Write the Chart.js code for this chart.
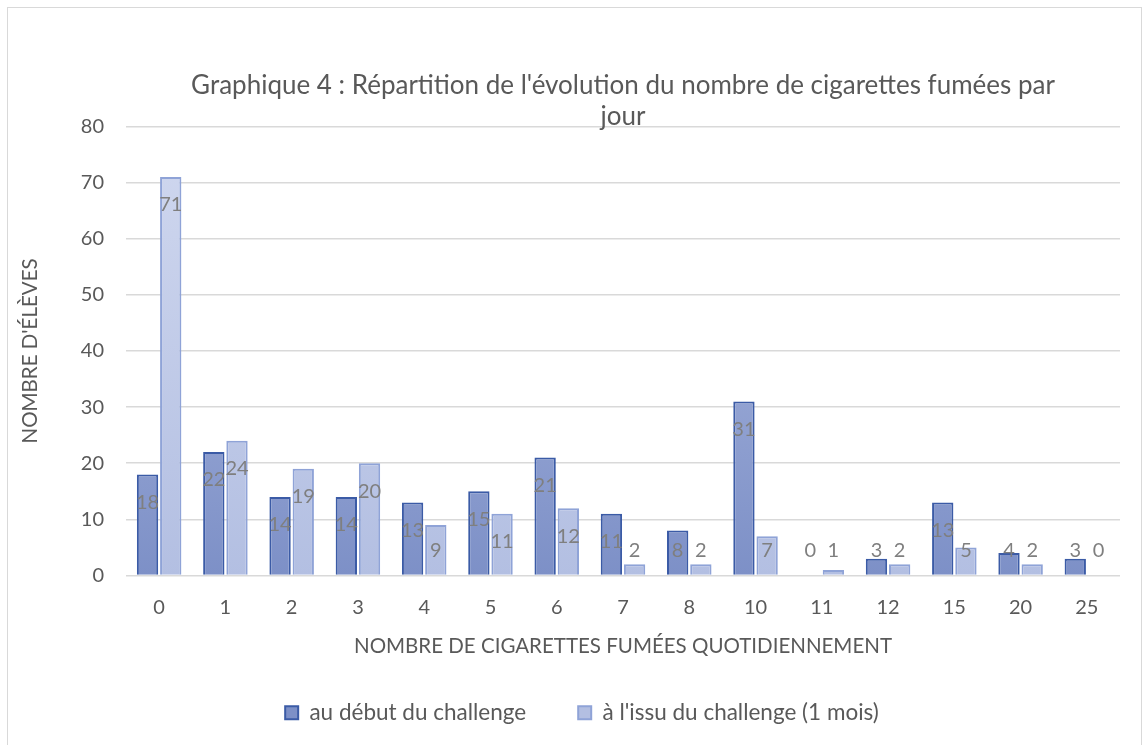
<!DOCTYPE html>
<html>
<head>
<meta charset="utf-8">
<script src="https://cdn.jsdelivr.net/npm/chart.js@4/dist/chart.umd.min.js"></script>
<style>
  html, body { margin: 0; padding: 0; background: #fff; }
  #wrap { position: relative; width: 1148px; height: 745px; overflow: hidden; }
  #frame { position: absolute; left: 7px; top: 7px; width: 1133px; height: 760px; border: 1px solid #d9d9d9; }
  canvas { position: absolute; left: 0; top: 0; }
</style>
</head>
<body>
<div id="wrap">
  <div id="frame"></div>
  <canvas id="chart" width="1148" height="745"></canvas>
</div>
<script>
// Données
const categories = ['0', '1', '2', '3', '4', '5', '6', '7', '8', '10', '11', '12', '15', '20', '25'];
const debutChallenge = [18, 22, 14, 14, 13, 15, 21, 11, 8, 31, 0, 3, 13, 4, 3];
const issueChallenge = [71, 24, 19, 20, 9, 11, 12, 2, 2, 7, 1, 2, 5, 2, 0];
const yTicks = [0, 10, 20, 30, 40, 50, 60, 70, 80];

const FONT = 'Lato, "Open Sans", sans-serif';
const GREY = '#595959';

// Dégradé vertical sur la zone du graphique
function gradient(top, bottom) {
  return ctx => {
    const area = ctx.chart.chartArea;
    if (!area) return bottom;
    const g = ctx.chart.ctx.createLinearGradient(0, area.top, 0, area.bottom);
    g.addColorStop(0, top);
    g.addColorStop(1, bottom);
    return g;
  };
}

// Étiquettes de données (style Excel "bord intérieur")
const valueLabels = {
  id: 'valueLabels',
  afterDatasetsDraw(chart) {
    const c = chart.ctx;
    const base = chart.scales.y.getPixelForValue(0);
    c.save();
    c.font = '20px ' + FONT;
    c.fillStyle = '#7f7f7f';
    c.textAlign = 'center';
    c.textBaseline = 'middle';
    chart.data.datasets.forEach((ds, i) => {
      chart.getDatasetMeta(i).data.forEach((bar, j) => {
        const y = Math.min(bar.y + 28, base - 25);
        c.fillText(String(ds.data[j]), bar.x, y);
      });
    });
    c.restore();
  }
};

new Chart(document.getElementById('chart'), {
  type: 'bar',
  data: {
    labels: categories,
    datasets: [
      {
        label: 'au début du challenge',
        data: debutChallenge,
        backgroundColor: gradient('#b3bfe3', '#7d90c7'),
        borderColor: '#3b5ba6',
        borderWidth: 2,
        categoryPercentage: 0.7,
        barPercentage: 0.92
      },
      {
        label: "à l'issu du challenge (1 mois)",
        data: issueChallenge,
        backgroundColor: gradient('#d0d8ef', '#b3bfe2'),
        borderColor: '#8fa3d7',
        borderWidth: 2,
        categoryPercentage: 0.7,
        barPercentage: 0.92
      }
    ]
  },
  options: {
    responsive: false,
    animation: false,
    layout: { padding: { top: 70, left: 44, right: 28, bottom: 11 } },
    scales: {
      x: {
        grid: { display: false },
        border: { display: false },
        ticks: { color: GREY, font: { family: FONT, size: 20 }, padding: 12 },
        title: {
          display: true,
          text: 'NOMBRE DE CIGARETTES FUMÉES QUOTIDIENNEMENT',
          color: GREY,
          font: { family: FONT, size: 20.5 },
          padding: { top: 0, bottom: -9 }
        },
        afterFit: scale => { scale.height = 74; }
      },
      y: {
        min: 0,
        max: 80,
        afterBuildTicks: scale => { scale.ticks = yTicks.map(v => ({ value: v })); },
        grid: { color: '#d9d9d9', lineWidth: 1.5, drawTicks: false },
        border: { display: false },
        ticks: { color: GREY, font: { family: FONT, size: 20 }, padding: 22 },
        title: {
          display: true,
          text: "NOMBRE D'ÉLÈVES",
          color: GREY,
          font: { family: FONT, size: 20.5 },
          padding: { top: -26, bottom: 4 }
        },
        afterFit: scale => { scale.width = 82; }
      }
    },
    plugins: {
      title: {
        display: true,
        fullSize: false,
        text: ["Graphique 4 : Répartition de l'évolution du nombre de cigarettes fumées par", 'jour'],
        color: GREY,
        font: { family: FONT, size: 26, weight: 'normal' },
        lineHeight: 1.12,
        padding: { top: 0, bottom: -6 }
      },
      legend: {
        position: 'bottom',
        labels: {
          color: GREY,
          font: { family: FONT, size: 22.5 },
          boxWidth: 13,
          boxHeight: 13,
          padding: 52
        }
      },
      tooltip: { enabled: false }
    }
  },
  plugins: [valueLabels]
});
</script>
</body>
</html>
